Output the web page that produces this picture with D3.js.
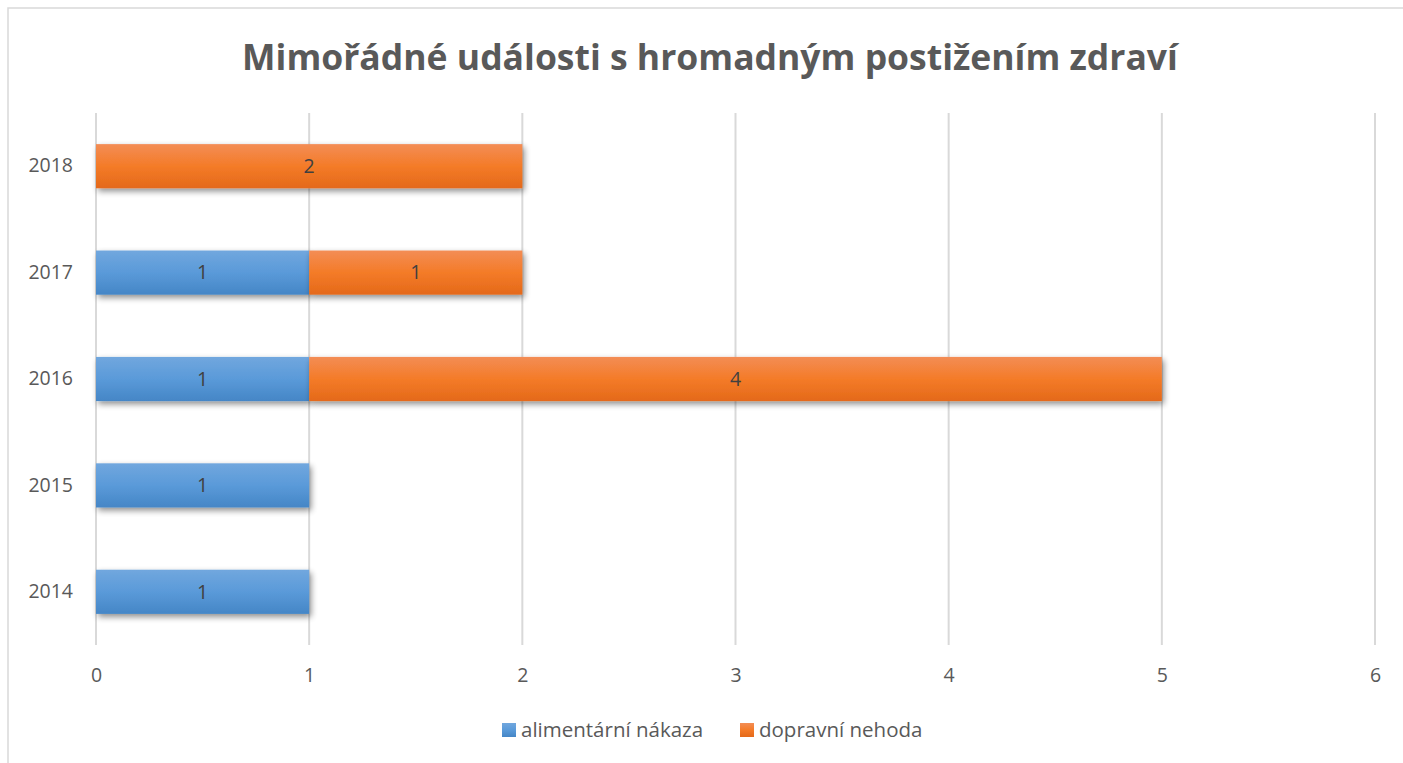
<!DOCTYPE html>
<html>
<head>
<meta charset="utf-8">
<script src="https://cdnjs.cloudflare.com/ajax/libs/d3/7.8.5/d3.min.js"></script>
<style>
  body { margin: 0; background: #fff; }
  svg { display: block; font-family: "Open Sans", "Noto Sans", sans-serif; }
</style>
</head>
<body>
<svg id="chart" width="1403" height="763"></svg>
<script>
var years = ["2014", "2015", "2016", "2017", "2018"];
var alimentarni = [1, 1, 1, 1, 0];
var dopravni = [0, 0, 4, 1, 2];
var seriesNames = ["alimentární nákaza", "dopravní nehoda"];
var xTicks = [0, 1, 2, 3, 4, 5, 6];
var title = "Mimořádné události s hromadným postižením zdraví";

var svg = d3.select('#chart');
var textColor = '#595959';

// chart frame
svg.append('rect')
  .attr('x', 8).attr('y', 8)
  .attr('width', 1420).attr('height', 800)
  .attr('fill', '#fff')
  .attr('stroke', '#d9d9d9')
  .attr('stroke-width', 1.5);

var defs = svg.append('defs');
function grad(id, stops){
  var g = defs.append('linearGradient').attr('id', id)
    .attr('x1', 0).attr('y1', 0).attr('x2', 0).attr('y2', 1);
  stops.forEach(s => g.append('stop').attr('offset', s[0]).attr('stop-color', s[1]));
}
grad('g-blue', [[0, '#71a7de'], [0.5, '#5a9ad9'], [1, '#4586c6']]);
grad('g-orange', [[0, '#f38d55'], [0.5, '#f47b28'], [1, '#e4691a']]);

var f = defs.append('filter').attr('id', 'shadow')
  .attr('x', '-5%').attr('y', '-20%').attr('width', '115%').attr('height', '160%');
f.append('feGaussianBlur').attr('in', 'SourceAlpha').attr('stdDeviation', 3);
f.append('feOffset').attr('dx', 2).attr('dy', 3).attr('result', 'ob');
f.append('feComponentTransfer').append('feFuncA').attr('type', 'linear').attr('slope', 0.45);
var merge = f.append('feMerge');
merge.append('feMergeNode');
merge.append('feMergeNode').attr('in', 'SourceGraphic');

var plot = { left: 96, right: 1375, top: 113, bottom: 645 };

var x = d3.scaleLinear().domain([0, 6]).range([plot.left, plot.right]);
var y = d3.scaleBand().domain(years.slice().reverse())
  .range([plot.top, plot.bottom]).paddingInner(0.585).paddingOuter(0.2925);

// gridlines
svg.append('g').selectAll('line').data(xTicks).enter().append('line')
  .attr('x1', d => x(d)).attr('x2', d => x(d))
  .attr('y1', plot.top).attr('y2', plot.bottom)
  .attr('stroke', '#d9d9d9').attr('stroke-width', 2);

// x axis labels
var xAxis = d3.axisBottom(x).tickValues(xTicks).tickFormat(d3.format('d')).tickSize(0).tickPadding(23);
var gx = svg.append('g').attr('transform', 'translate(0,' + plot.bottom + ')').call(xAxis);
gx.select('.domain').remove();
gx.selectAll('text').attr('fill', textColor).style('font-size', '19.5px')
  .style('font-family', '"Open Sans", sans-serif');

// y axis labels
var yAxis = d3.axisLeft(y).tickSize(0).tickPadding(23);
var gy = svg.append('g').attr('transform', 'translate(' + plot.left + ',0)').call(yAxis);
gy.select('.domain').remove();
gy.selectAll('text').attr('fill', textColor).style('font-size', '19.5px')
  .style('font-family', '"Open Sans", sans-serif');

// stacked bars
var rows = years.map((yr, i) => ({ year: yr, alimentarni: alimentarni[i], dopravni: dopravni[i] }));
var stack = d3.stack().keys(['alimentarni', 'dopravni']);
var stacked = stack(rows);
var fills = ['url(#g-blue)', 'url(#g-orange)'];

var layers = svg.append('g').selectAll('g').data(stacked).enter().append('g')
  .attr('fill', (d, i) => fills[i]);

layers.selectAll('rect').data(d => d.filter(s => s[1] - s[0] > 0)).enter().append('rect')
  .attr('x', d => x(d[0]))
  .attr('y', d => y(d.data.year))
  .attr('width', d => x(d[1]) - x(d[0]))
  .attr('height', y.bandwidth())
  .attr('filter', 'url(#shadow)');

layers.selectAll('text').data(d => d.filter(s => s[1] - s[0] > 0)).enter().append('text')
  .attr('x', d => (x(d[0]) + x(d[1])) / 2)
  .attr('y', d => y(d.data.year) + y.bandwidth() / 2)
  .attr('dy', '0.35em')
  .attr('text-anchor', 'middle')
  .attr('fill', '#404040')
  .style('font-size', '19.5px')
  .text(d => d[1] - d[0]);

// title
svg.append('text')
  .attr('x', 710).attr('y', 70)
  .attr('text-anchor', 'middle')
  .attr('fill', textColor)
  .style('font-size', '35.5px')
  .style('font-weight', 'bold')
  .text(title);

// legend
var legendPos = [502, 740];
var lg = svg.append('g').selectAll('g').data(seriesNames).enter().append('g')
  .attr('transform', (d, i) => 'translate(' + legendPos[i] + ',723)');
lg.append('rect').attr('width', 14).attr('height', 14)
  .attr('fill', (d, i) => fills[i]);
lg.append('text').attr('x', 19).attr('y', 7).attr('dy', '0.35em')
  .attr('fill', textColor).style('font-size', '20.5px')
  .text(d => d);
</script>
</body>
</html>
